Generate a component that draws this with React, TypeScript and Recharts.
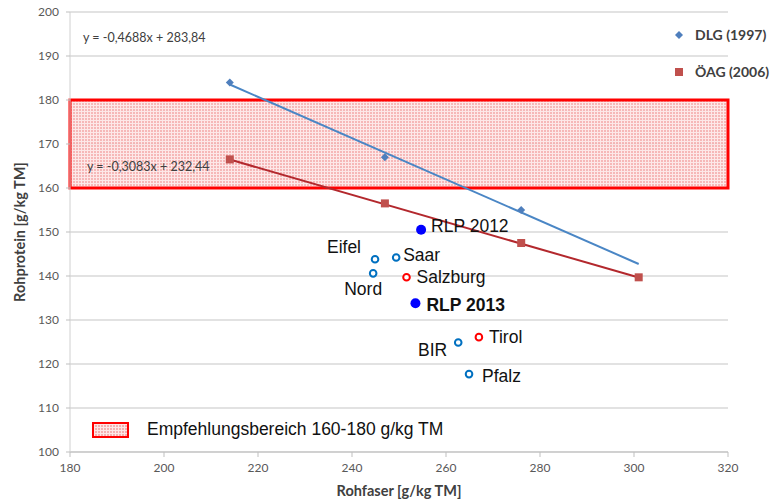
import React from 'react'
import { ScatterChart, Scatter, XAxis, YAxis, CartesianGrid, ReferenceArea, ReferenceLine } from 'recharts'

// axes
const faserTicks = [180, 200, 220, 240, 260, 280, 300, 320]
const proteinTicks = [100, 110, 120, 130, 140, 150, 160, 170, 180, 190, 200]

// DLG (1997) norm values
const dlgFaser = [214, 247, 276]
const dlgProtein = [184, 167, 155]
const dlgTrend = [-0.4688, 283.84]

// ÖAG (2006) norm values
const oagFaser = [214, 247, 276, 301]
const oagProtein = [166.5, 156.5, 147.5, 139.7]
const oagTrend = [-0.3083, 232.44]

const trendFrom = 214
const trendTo = 301

// recommended range
const bandLow = 160
const bandHigh = 180

// regional samples
const regionNames = ['RLP 2012', 'RLP 2013', 'Eifel', 'Saar', 'Nord', 'BIR', 'Pfalz', 'Salzburg', 'Tirol']
const regionFaser = [254.7, 253.5, 244.9, 249.4, 244.5, 262.6, 264.9, 251.6, 267.0]
const regionProtein = [150.5, 133.8, 143.8, 144.2, 140.6, 124.9, 117.7, 139.7, 126.1]
const regionGroup = ['rlp', 'rlp', 'de', 'de', 'de', 'de', 'de', 'at', 'at']

const dlgData = dlgFaser.map((x, i) => ({ x, y: dlgProtein[i] }))
const oagData = oagFaser.map((x, i) => ({ x, y: oagProtein[i] }))
const regionData = regionNames.map((name, i) => ({ name, x: regionFaser[i], y: regionProtein[i], group: regionGroup[i] }))

const trendSegment = ([m, b]: number[]) => [
  { x: trendFrom, y: m * trendFrom + b },
  { x: trendTo, y: m * trendTo + b },
]

// label offsets next to each dot: dx, dy (baseline), anchor
const labelSpot: Record<string, [number, number, 'start' | 'end']> = {
  'RLP 2012': [10, 2, 'start'],
  'RLP 2013': [11, 8, 'start'],
  Eifel: [-14, -6, 'end'],
  Saar: [7, 3, 'start'],
  Nord: [9, 22, 'end'],
  BIR: [-11, 14, 'end'],
  Pfalz: [13, 8, 'start'],
  Salzburg: [10, 6, 'start'],
  Tirol: [10, 6, 'start'],
}

const BLUE_LINE = '#4a86c5'
const RED_LINE = '#b3282d'
const DLG_MARK = '#4f7fbd'
const OAG_MARK = '#c0504d'
const excelFont = 'Lato, "Open Sans", sans-serif'
const arialFont = '"Liberation Sans", Arial, sans-serif'

const Diamond = (props: any) => {
  const { cx, cy } = props
  const r = 4
  return <polygon points={`${cx},${cy - r} ${cx + r},${cy} ${cx},${cy + r} ${cx - r},${cy}`} fill={DLG_MARK} />
}

const Square = (props: any) => {
  const { cx, cy } = props
  return <rect x={cx - 4} y={cy - 4} width={8} height={8} fill={OAG_MARK} />
}

const RegionDot = (props: any) => {
  const { cx, cy, payload } = props
  const [dx, dy, anchor] = labelSpot[payload.name]
  const isRlp = payload.group === 'rlp'
  const color = payload.group === 'at' ? '#ff0000' : '#0070c0'
  return (
    <g>
      {isRlp ? (
        <circle cx={cx} cy={cy} r={5} fill="#0000ff" />
      ) : (
        <circle cx={cx} cy={cy} r={3.3} fill="#fff" stroke={color} strokeWidth={2} />
      )}
      <text
        x={cx + dx}
        y={cy + dy}
        textAnchor={anchor}
        fontFamily={arialFont}
        fontSize={17.5}
        fontWeight={payload.name === 'RLP 2013' ? 'bold' : 'normal'}
        fill="#111"
      >
        {payload.name}
      </text>
    </g>
  )
}

const swatchBg = {
  backgroundColor: '#f4b0b0',
  backgroundImage:
    'linear-gradient(#fde6e6 1px, transparent 1px), linear-gradient(90deg, #fde6e6 1px, transparent 1px)',
  backgroundSize: '3px 3px',
}

export default function App() {
  return (
    <div style={{ position: 'absolute', left: 0, top: 0, width: 773, height: 500, background: '#fff', fontFamily: excelFont }}>
      <ScatterChart width={773} height={500} margin={{ top: 12, right: 45, bottom: 0, left: 0 }}>
        <defs>
          <pattern id="bandGrid" width={3} height={3} patternUnits="userSpaceOnUse">
            <rect width={3} height={3} fill="#f4acac" />
            <path d="M0 0.5H3M0.5 0V3" stroke="#fde4e4" strokeWidth={1} />
          </pattern>
        </defs>
        <CartesianGrid vertical={false} stroke="#d9d9d9" strokeWidth={1.3} />
        <XAxis
          type="number"
          dataKey="x"
          domain={[180, 320]}
          ticks={faserTicks}
          height={48}
          axisLine={{ stroke: '#bfbfbf' }}
          tickLine={{ stroke: '#bfbfbf' }}
          tickSize={5}
          tickMargin={6}
          tick={{ fill: '#595959', fontSize: 12, fontFamily: excelFont }}
          label={{ value: 'Rohfaser [g/kg TM]', position: 'insideBottom', offset: 4, fill: '#404040', fontSize: 14.5, fontWeight: 'bold', fontFamily: excelFont }}
        />
        <YAxis
          type="number"
          dataKey="y"
          domain={[100, 200]}
          ticks={proteinTicks}
          width={70}
          axisLine={{ stroke: '#d0d0d0' }}
          tickLine={{ stroke: '#bfbfbf' }}
          tickSize={4}
          tickMargin={7}
          tick={{ fill: '#595959', fontSize: 12, fontFamily: excelFont }}
          label={{ value: 'Rohprotein [g/kg TM]', angle: -90, position: 'insideLeft', offset: 20, style: { textAnchor: 'middle' }, fill: '#404040', fontSize: 14.5, fontWeight: 'bold', fontFamily: excelFont }}
        />
        <ReferenceArea
          x1={180}
          x2={320}
          y1={bandLow}
          y2={bandHigh}
          fill="url(#bandGrid)"
          fillOpacity={0.85}
          stroke="#ff0000"
          strokeWidth={3}
        />
        <ReferenceLine segment={trendSegment(dlgTrend)} stroke={BLUE_LINE} strokeWidth={2} />
        <ReferenceLine segment={trendSegment(oagTrend)} stroke={RED_LINE} strokeWidth={2} />
        <Scatter name="DLG (1997)" data={dlgData} shape={Diamond} isAnimationActive={false} />
        <Scatter name="ÖAG (2006)" data={oagData} shape={Square} isAnimationActive={false} />
        <Scatter name="Regionen" data={regionData} shape={RegionDot} isAnimationActive={false} />
      </ScatterChart>

      {/* trend equations */}
      <div style={{ position: 'absolute', left: 83, top: 30, fontSize: 12.5, color: '#404040', whiteSpace: 'nowrap' }}>
        y = -0,4688x + 283,84
      </div>
      <div style={{ position: 'absolute', left: 87, top: 159, fontSize: 12.5, color: '#404040', whiteSpace: 'nowrap' }}>
        y = -0,3083x + 232,44
      </div>

      {/* series legend */}
      <div style={{ position: 'absolute', left: 673, top: 26, fontSize: 14, fontWeight: 'bold', color: '#404040', lineHeight: '18px' }}>
        <div style={{ display: 'flex', alignItems: 'center', height: 18 }}>
          <svg width={12} height={12} style={{ marginRight: 10 }}>
            <polygon points="6,2 10,6 6,10 2,6" fill={DLG_MARK} />
          </svg>
          DLG (1997)
        </div>
        <div style={{ display: 'flex', alignItems: 'center', height: 18, marginTop: 19 }}>
          <svg width={12} height={12} style={{ marginRight: 10 }}>
            <rect x={2} y={2} width={8} height={8} fill={OAG_MARK} />
          </svg>
          ÖAG (2006)
        </div>
      </div>

      {/* recommended range key */}
      <div style={{ position: 'absolute', left: 92, top: 421, height: 17, display: 'flex', alignItems: 'center', fontFamily: arialFont, fontSize: 17.5, color: '#111', whiteSpace: 'nowrap' }}>
        <div style={{ width: 33, height: 12, border: '2px solid #ff0000', ...swatchBg }} />
        <span style={{ marginLeft: 18 }}>Empfehlungsbereich 160-180 g/kg TM</span>
      </div>
    </div>
  )
}
